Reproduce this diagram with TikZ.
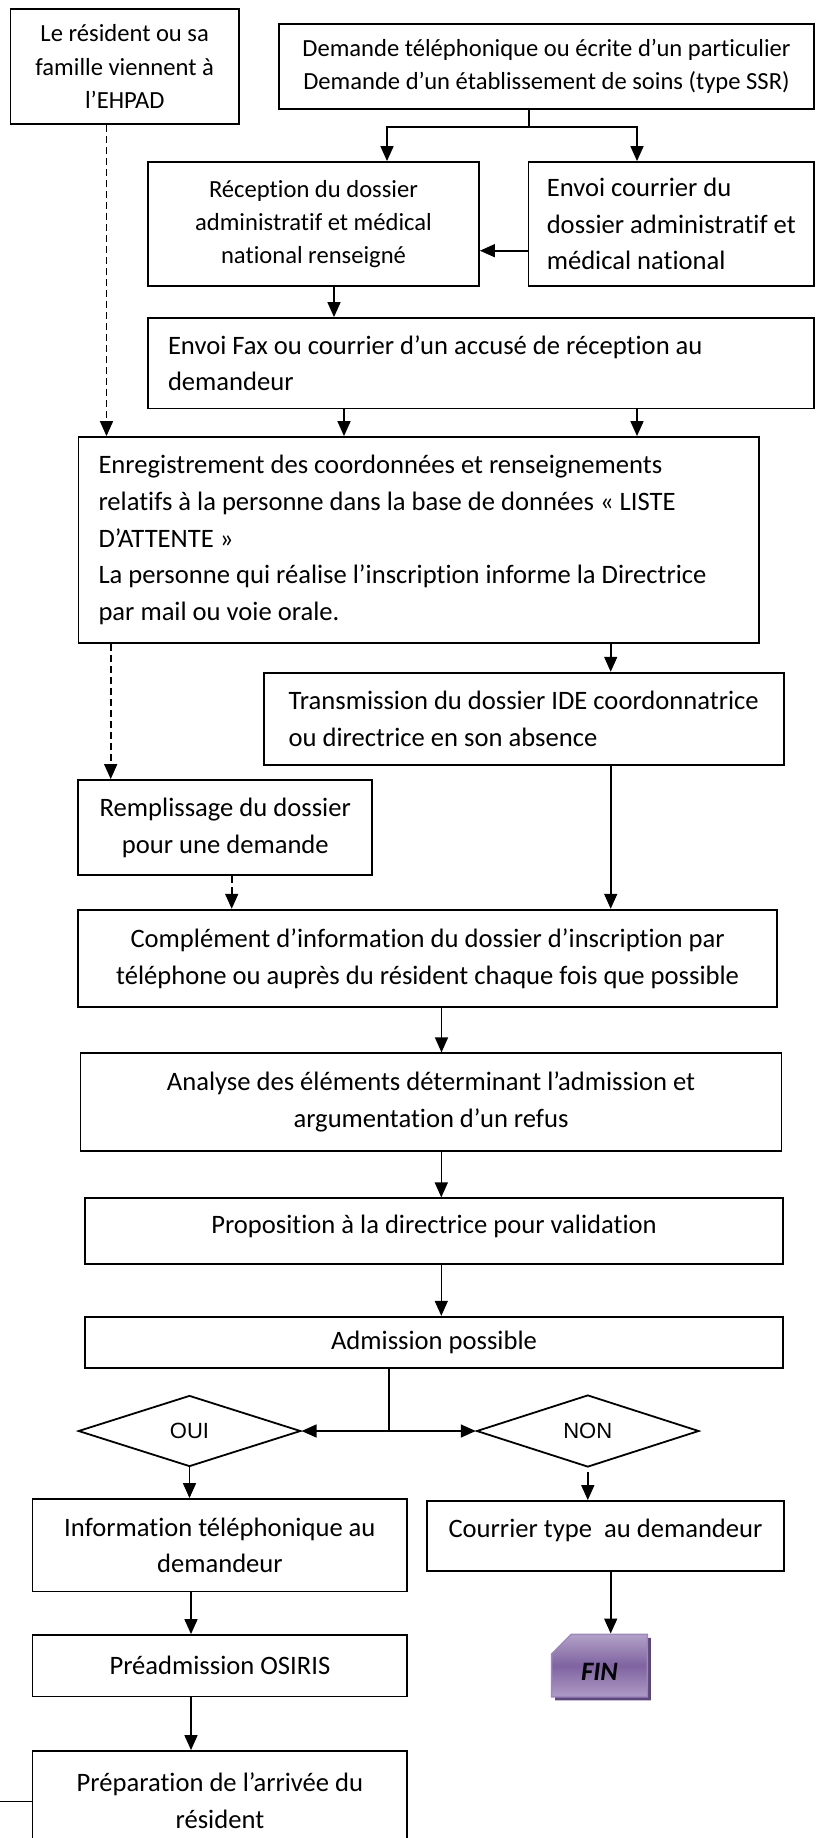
\documentclass[tikz,border=0pt]{standalone}
\usepackage{fontspec}
\setmainfont{Carlito}[Ligatures=CommonOff]
\newfontfamily\arialfont{Liberation Sans}
\usetikzlibrary{arrows.meta,shapes.geometric,shapes.misc,shadows}
\newcommand{\tailleG}{\fontsize{26.6}{36.7}\selectfont}
\newcommand{\tailleP}{\fontsize{24.6}{33.3}\selectfont}
\definecolor{finhaut}{HTML}{B3A2C7}
\definecolor{finmilieu}{HTML}{7F63A1}
\definecolor{finbas}{HTML}{AE9CC5}
\definecolor{finbord}{HTML}{9D87BE}
\definecolor{finombre}{HTML}{5B477A}
\begin{document}
\begin{tikzpicture}[x=1pt,y=-1pt,
  boite/.style={draw=black,line width=1.8pt,inner sep=0pt,align=flush center,font=\tailleG},
  fleche/.style={line width=1.6pt,-{Triangle[length=15pt,width=13pt]}},
  tirets/.style={dash pattern=on 7pt off 4pt},
  losange/.style={draw=black,diamond,line width=1.8pt,inner sep=0pt,font=\arialfont\fontsize{22}{26}\selectfont}]
\useasboundingbox (0,0) rectangle (815,1838);
\clip (0,0) rectangle (815,1838);
% demandes
\node [boite,font=\tailleP,minimum width=228.6pt,minimum height=114.7pt] (famille) at (124.7,66.7) {Le résident ou sa\\famille viennent à\\l’EHPAD};
\node [boite,font=\tailleP,minimum width=535pt,minimum height=85pt] (demande) at (546.5,66.5) {Demande téléphonique ou écrite d’un particulier\\Demande d’un établissement de soins (type SSR)};
\node [boite,font=\tailleP,minimum width=331pt,minimum height=124pt] (reception) at (313.5,224) {Réception du dossier\\administratif et médical\\national renseigné};
\node [boite,align=flush left,minimum width=285.5pt,minimum height=124pt] (envoi) at (671.25,224) {Envoi courrier du\\dossier administratif et\\médical national};
\node [boite,align=flush left,text width=626pt,inner xsep=20pt,minimum height=90.5pt] (fax) at (481,363.25) {Envoi Fax ou courrier d’un accusé de réception au\\demandeur};
% inscription
\node [boite,align=flush left,text width=640.5pt,inner xsep=20pt,minimum height=206pt] (enreg) at (418.75,540) {Enregistrement des coordonnées et renseignements\\relatifs à la personne dans la base de données « LISTE\\D’ATTENTE »\\La personne qui réalise l’inscription informe la Directrice\\par mail ou voie orale.};
\node [boite,align=flush left,minimum width=520pt,minimum height=92.3pt] (transm) at (523.7,718.85) {Transmission du dossier IDE coordonnatrice\\ou directrice en son absence};
\node [boite,minimum width=294pt,minimum height=95.3pt] (rempl) at (225.3,827.65) {Remplissage du dossier\\pour une demande};
\node [boite,minimum width=698.7pt,minimum height=97.6pt] (complement) at (427.65,958.5) {Complément d’information du dossier d’inscription par\\téléphone ou auprès du résident chaque fois que possible};
\node [boite,minimum width=701pt,minimum height=97.7pt] (analyse) at (431,1102.15) {Analyse des éléments déterminant l’admission et\\argumentation d’un refus};
\node [boite,minimum width=698.6pt,minimum height=65.7pt] (propo) at (434,1231.15) {\raisebox{5pt}[\height][\depth]{Proposition à la directrice pour validation}};
\node [boite,minimum width=698.6pt,minimum height=51.6pt] (admis) at (434,1342.5) {Admission possible};
% decision
\node [losange,minimum width=222.4pt,minimum height=71pt] (oui) at (189.5,1431) {OUI};
\node [losange,minimum width=222.3pt,minimum height=72pt] (non) at (587.8,1431) {NON};
\node [boite,minimum width=374.8pt,minimum height=92.5pt] (info) at (219.9,1545.25) {Information téléphonique au\\demandeur};
\node [boite,minimum width=374.8pt,minimum height=61.5pt] (preadm) at (219.9,1665.75) {Préadmission OSIRIS};
\node [boite,minimum width=374.8pt,minimum height=100pt] (prepa) at (219.9,1801) {Préparation de l’arrivée du\\résident};
\node [boite,minimum width=356.4pt,minimum height=70pt] (courrier) at (605.5,1536) {\raisebox{6pt}[\height][\depth]{Courrier type\ \ au demandeur}};
\node [chamfered rectangle,chamfered rectangle corners=north west,chamfered rectangle xsep=14pt,chamfered rectangle ysep=11pt,
  draw=finbord,line width=1.5pt,inner sep=0pt,minimum width=95.6pt,minimum height=62.7pt,
  top color=finhaut,bottom color=finbas,middle color=finmilieu,
  drop shadow={shadow xshift=3.5pt,shadow yshift=-3.5pt,fill=finombre,opacity=1},
  font=\tailleG] (fin) at (599.5,1665.6) {\raisebox{-6pt}[\height][\depth]{\textbf{\textit{FIN}}}};
% fleches
\coordinate (fourche) at (528.7,127);
\draw [line width=1.6pt] (demande.south -| fourche) -- (fourche);
\draw [fleche] (fourche) -| ([xshift=73.5pt]reception.north);
\draw [fleche] (fourche) -| ([xshift=-34.25pt]envoi.north);
\draw [fleche] ([yshift=-26.7pt]envoi.west) -- ([yshift=-26.7pt]reception.east);
\draw [fleche] ([xshift=20.5pt]reception.south) -- ([xshift=20.5pt]reception.south |- fax.north);
\draw [fleche] ([xshift=-137pt]fax.south) -- ([xshift=-137pt]fax.south |- enreg.north);
\draw [fleche] ([xshift=156pt]fax.south) -- ([xshift=156pt]fax.south |- enreg.north);
\draw [fleche,tirets] ([xshift=-18.2pt]famille.south) -- ([xshift=-18.2pt]famille.south |- enreg.north);
\draw [fleche] ([xshift=87pt]transm.north |- enreg.south) -- ([xshift=87pt]transm.north);
\draw [fleche,tirets] ([xshift=-114.6pt]rempl.north |- enreg.south) -- ([xshift=-114.6pt]rempl.north);
\draw [fleche,tirets] ([xshift=6.4pt]rempl.south) -- ([xshift=6.4pt]rempl.south |- complement.north);
\draw [fleche] ([xshift=87pt]transm.south) -- ([xshift=87pt]transm.south |- complement.north);
\draw [fleche] ([xshift=10.5pt]analyse.north |- complement.south) -- ([xshift=10.5pt]analyse.north);
\draw [fleche] ([xshift=7.3pt]propo.north |- analyse.south) -- ([xshift=7.3pt]propo.north);
\draw [fleche] ([xshift=7.3pt]admis.north |- propo.south) -- ([xshift=7.3pt]admis.north);
\coordinate (carrefour) at (389,1431);
\draw [line width=1.6pt] (admis.south -| carrefour) -- (carrefour);
\draw [fleche] (carrefour) -- (oui.east);
\draw [fleche] (carrefour) -- (non.west);
\draw [fleche] (oui.south) -- (oui.south |- info.north);
\draw [fleche,shorten <=4pt] (non.south) -- (non.south |- courrier.north);
\draw [fleche] ([xshift=5.2pt]courrier.south) -- ([xshift=5.2pt]courrier.south |- fin.north);
\draw [fleche] ([xshift=-28.9pt]info.south) -- ([xshift=-28.9pt]info.south |- preadm.north);
\draw [fleche] ([xshift=-28.9pt]preadm.south) -- ([xshift=-28.9pt]preadm.south |- prepa.north);
\coordinate (bord) at (0,1801.5);
\draw [line width=1.6pt] (bord) -- (prepa.west |- bord);
\end{tikzpicture}
\end{document}
